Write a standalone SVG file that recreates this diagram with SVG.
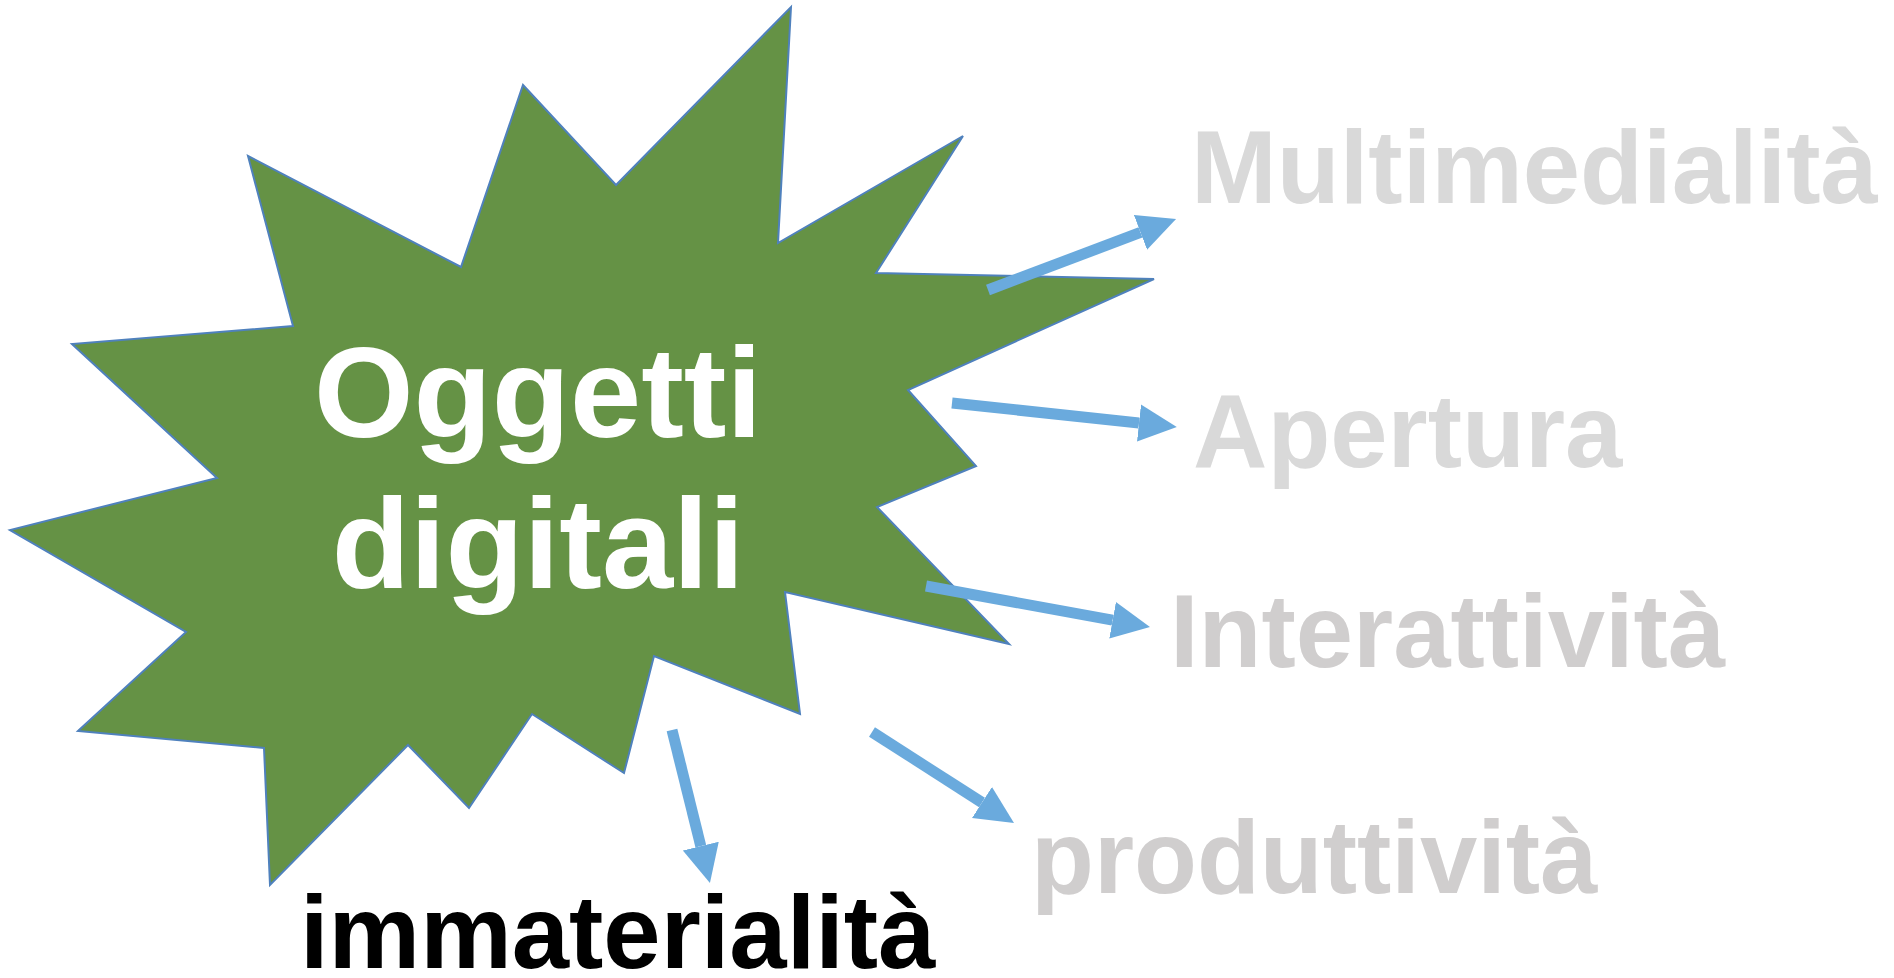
<svg xmlns="http://www.w3.org/2000/svg" width="1894" height="978" viewBox="0 0 1894 978">
  <style>
    .star { fill: #659245; stroke: #4f81bd; stroke-width: 2; stroke-linejoin: miter; }
    .center { font-family: "Liberation Sans", Arial, sans-serif; font-weight: bold; font-size: 128px; fill: #ffffff; text-anchor: middle; }
    .lbl { font-family: "Liberation Sans", Arial, sans-serif; font-weight: bold; font-size: 103px; }
    .light { fill: #d9d9d9; }
    .mid { fill: #d0cece; }
    .dark { fill: #000000; }
    .conn { stroke: #6aaadd; stroke-width: 11; fill: none; stroke-linecap: butt; marker-end: url(#head); }
  </style>
  <defs>
    <marker id="head" markerUnits="userSpaceOnUse" markerWidth="40" markerHeight="40" viewBox="0 -20 40 40" refX="0" refY="0" orient="auto">
      <path d="M0,-18.5 L38,0 L0,18.5 Z" fill="#6aaadd"/>
    </marker>
  </defs>
  <rect width="1894" height="978" fill="#ffffff"/>

  <g id="node-oggetti-digitali">
    <polygon class="star" points="791,7 778,243 963,136 876,273 1154,279 908,390 976,466 877,507 1009,644 785,592 800,714 654,656 624,773 532,714 469,808 408,745 270,885 264,748 78,731 186,632 10,530 217,478 72,344 293,326 248,156 461,267 523,85 616,185"/>
    <text class="center" x="538" y="437">Oggetti</text>
    <text class="center" x="538" y="588">digitali</text>
  </g>

  <g id="connectors">
    <line class="conn" x1="988" y1="290" x2="1140.5" y2="232.4"/>
    <line class="conn" x1="952" y1="403" x2="1139" y2="423"/>
    <line class="conn" x1="926" y1="586" x2="1112.6" y2="620.2"/>
    <line class="conn" x1="872" y1="732" x2="982" y2="802.5"/>
    <line class="conn" x1="672" y1="730" x2="700.8" y2="846.1"/>
  </g>

  <g id="node-multimedialita">
    <text class="lbl light" x="1191" y="203">Multimedialità</text>
  </g>
  <g id="node-apertura">
    <text class="lbl light" x="1193" y="467">Apertura</text>
  </g>
  <g id="node-interattivita">
    <text class="lbl mid" x="1170" y="667">Interattività</text>
  </g>
  <g id="node-produttivita">
    <text class="lbl mid" x="1031" y="893">produttività</text>
  </g>
  <g id="node-immaterialita">
    <text class="lbl dark" x="300" y="968">immaterialità</text>
  </g>
</svg>
